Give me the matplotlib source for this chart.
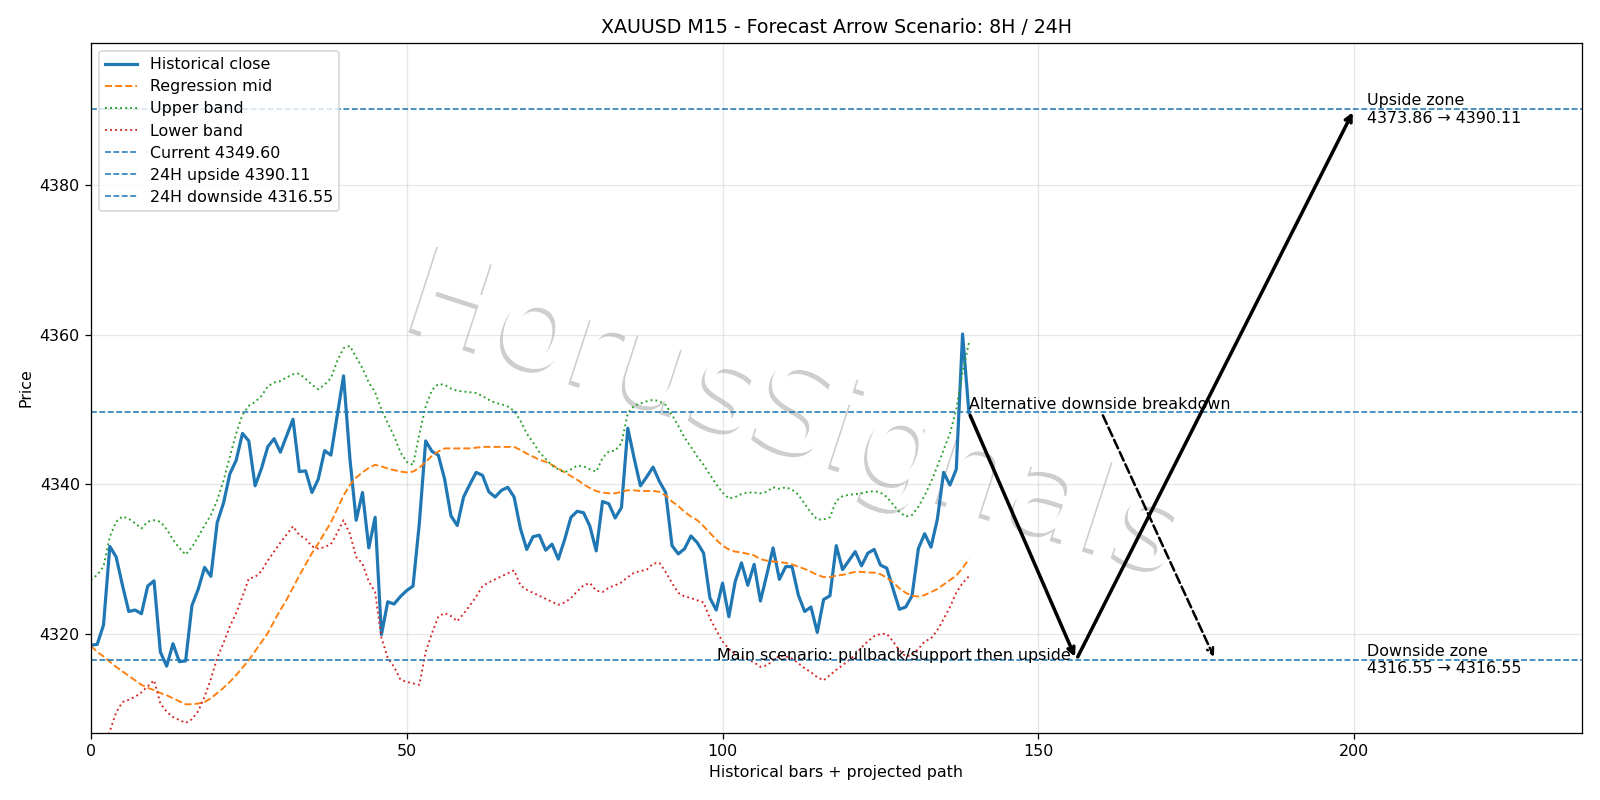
import matplotlib
matplotlib.use("Agg")
import matplotlib.pyplot as plt
import matplotlib.patheffects as pe
import numpy as np

# ── Data ──────────────────────────────────────────────────────────────────────
close = [
    4318.5, 4318.6, 4321.2, 4331.7, 4330.3, 4326.5, 4323.0, 4323.2, 4322.7, 4326.4,
    4327.1, 4317.6, 4315.7, 4318.7, 4316.3, 4316.4, 4323.8, 4326.0, 4328.9, 4327.7,
    4334.9, 4337.5, 4341.4, 4343.2, 4346.8, 4345.8, 4339.8, 4342.1, 4345.0, 4346.1,
    4344.3, 4346.5, 4348.7, 4341.7, 4341.8, 4338.9, 4340.7, 4344.5, 4343.9, 4349.2,
    4354.5, 4343.5, 4335.2, 4338.9, 4331.5, 4335.6, 4319.9, 4324.3, 4324.0, 4325.0,
    4325.8, 4326.4, 4334.8, 4345.8, 4344.4, 4343.9, 4340.7, 4335.8, 4334.5, 4338.3,
    4340.0, 4341.6, 4341.2, 4339.0, 4338.3, 4339.2, 4339.6, 4338.3, 4334.1, 4331.3,
    4333.0, 4333.2, 4331.2, 4332.0, 4330.0, 4332.6, 4335.6, 4336.4, 4336.2, 4334.4,
    4331.1, 4337.7, 4337.4, 4335.5, 4336.9, 4347.5, 4343.5, 4339.8, 4341.0, 4342.3,
    4340.4, 4338.9, 4331.8, 4330.7, 4331.4, 4333.1, 4332.2, 4330.8, 4324.8, 4323.2,
    4326.8, 4322.3, 4327.0, 4329.5, 4326.5, 4329.3, 4324.4, 4327.9, 4331.5, 4327.3,
    4329.0, 4329.0, 4325.2, 4323.0, 4323.6, 4320.2, 4324.6, 4325.1, 4331.8, 4328.6,
    4329.8, 4331.0, 4329.1, 4330.8, 4331.3, 4329.2, 4328.8, 4326.0, 4323.3, 4323.6,
    4325.1, 4331.4, 4333.4, 4331.6, 4335.3, 4341.6, 4339.9, 4342.0, 4360.1, 4349.6,
]

mid = [
    4318.4, 4317.6, 4317.0, 4316.3, 4315.6, 4315.0, 4314.4, 4313.8, 4313.2, 4312.8,
    4312.5, 4312.1, 4311.8, 4311.4, 4311.0, 4310.6, 4310.6, 4310.7, 4310.9, 4311.4,
    4312.1, 4312.8, 4313.6, 4314.5, 4315.5, 4316.5, 4317.7, 4318.9, 4320.1, 4321.7,
    4323.2, 4324.6, 4326.2, 4327.8, 4329.3, 4330.8, 4332.1, 4333.5, 4334.9, 4336.7,
    4338.5, 4339.9, 4340.9, 4341.6, 4342.2, 4342.6, 4342.4, 4342.1, 4341.9, 4341.7,
    4341.6, 4341.7, 4342.2, 4343.0, 4343.8, 4344.4, 4344.8, 4344.8, 4344.8, 4344.8,
    4344.8, 4344.9, 4345.0, 4345.0, 4345.0, 4345.0, 4345.0, 4345.0, 4344.6, 4344.1,
    4343.7, 4343.3, 4343.0, 4342.6, 4342.1, 4341.6, 4341.1, 4340.6, 4340.0, 4339.5,
    4339.1, 4338.9, 4338.8, 4338.8, 4339.0, 4339.2, 4339.2, 4339.1, 4339.1, 4339.1,
    4339.0, 4338.5, 4337.7, 4337.1, 4336.3, 4335.7, 4335.2, 4334.4, 4333.5, 4332.6,
    4331.8, 4331.3, 4331.0, 4330.9, 4330.7, 4330.5, 4330.0, 4329.8, 4329.7, 4329.6,
    4329.5, 4329.3, 4329.0, 4328.7, 4328.3, 4327.9, 4327.6, 4327.6, 4327.8, 4327.9,
    4328.1, 4328.3, 4328.3, 4328.2, 4328.2, 4328.0, 4327.5, 4326.9, 4326.1, 4325.5,
    4325.1, 4325.0, 4325.2, 4325.6, 4326.0, 4326.6, 4327.2, 4327.8, 4328.8, 4330.0,
]

upper = [
    4327.2, 4327.9, 4329.0, 4333.0, 4335.0, 4335.7, 4335.4, 4334.8, 4334.1, 4335.0,
    4335.2, 4335.0, 4334.0, 4332.6, 4331.5, 4330.6, 4331.6, 4333.0, 4334.5, 4335.9,
    4337.9, 4340.5, 4343.7, 4346.8, 4349.3, 4350.5, 4351.0, 4351.8, 4353.1, 4353.6,
    4353.8, 4354.3, 4354.7, 4354.8, 4354.1, 4353.3, 4352.7, 4353.3, 4354.2, 4356.5,
    4358.2, 4358.5, 4357.0, 4355.5, 4353.6, 4352.3, 4350.0, 4348.2, 4346.4, 4344.3,
    4343.0, 4342.6, 4346.7, 4350.4, 4352.6, 4353.4, 4353.3, 4352.8, 4352.5, 4352.4,
    4352.3, 4352.2, 4351.8, 4351.3, 4350.9, 4350.7, 4350.4, 4349.8, 4348.5, 4346.8,
    4345.6, 4344.3, 4343.4, 4342.5, 4342.0, 4341.6, 4342.0, 4342.5, 4342.4, 4342.0,
    4341.7, 4343.5, 4344.4, 4344.5, 4345.5, 4349.5, 4350.5, 4350.8, 4351.1, 4351.3,
    4351.1, 4350.6, 4349.3, 4347.8, 4346.2, 4345.0, 4343.7, 4342.6, 4341.3, 4340.0,
    4338.9, 4338.1, 4338.3, 4338.7, 4338.9, 4338.9, 4338.8, 4339.0, 4339.6, 4339.4,
    4339.6, 4339.3, 4338.6, 4337.4, 4336.2, 4335.3, 4335.3, 4335.6, 4337.8, 4338.4,
    4338.6, 4338.7, 4338.8, 4339.0, 4339.1, 4338.9, 4338.3, 4337.3, 4336.3, 4335.7,
    4335.9, 4337.0, 4338.5, 4340.3, 4342.4, 4344.6, 4346.8, 4350.0, 4355.0, 4358.9,
]

lower = [
    4302.5, 4303.8, 4305.3, 4307.0, 4309.5, 4310.9, 4311.2, 4311.6, 4312.2, 4313.0,
    4313.8, 4310.7, 4309.6, 4308.9, 4308.5, 4308.1, 4308.6, 4309.7, 4311.6, 4314.0,
    4316.8, 4318.8, 4321.0, 4322.8, 4325.0, 4327.4, 4327.6, 4328.4, 4329.8, 4331.0,
    4332.2, 4333.3, 4334.4, 4333.2, 4332.7, 4331.7, 4331.4, 4331.6, 4332.0, 4333.5,
    4335.2, 4333.4, 4330.3, 4329.4, 4327.0, 4325.6, 4319.5, 4316.8, 4315.6, 4313.9,
    4313.6, 4313.4, 4313.2, 4317.6, 4320.1, 4322.3, 4322.8, 4322.4, 4321.7, 4322.7,
    4323.8, 4325.0, 4326.4, 4326.9, 4327.3, 4327.7, 4328.1, 4328.5, 4326.5, 4325.9,
    4325.5, 4325.1, 4324.7, 4324.3, 4323.9, 4324.2, 4324.8, 4325.7, 4326.5, 4326.8,
    4325.8, 4325.6, 4326.2, 4326.5, 4326.9, 4327.6, 4328.2, 4328.4, 4328.6, 4329.4,
    4329.5, 4328.3, 4326.8, 4325.5, 4325.0, 4324.8, 4324.5, 4324.2, 4322.1, 4320.5,
    4319.0, 4318.0, 4317.3, 4316.9, 4316.6, 4316.2, 4315.6, 4315.8, 4316.4, 4317.1,
    4317.0, 4316.7, 4316.1, 4315.4, 4314.9, 4314.2, 4313.8, 4314.5, 4315.2, 4315.8,
    4316.5, 4317.2, 4318.2, 4319.0, 4319.7, 4320.0, 4320.0, 4319.0, 4317.8, 4317.0,
    4317.2, 4318.0, 4319.0, 4319.4, 4320.5, 4322.0, 4323.6, 4325.5, 4326.8, 4327.7,
]

current = 4349.60
up_24h = 4390.11
down_24h = 4316.55
up_zone = (4373.86, 4390.11)
down_zone = (4316.55, 4316.55)

# projected path (bar index, price)
main_path_x = [139, 156, 200]
main_path_y = [current, down_24h, up_24h]
alt_path_x = [160, 178]
alt_path_y = [current, down_24h]

# ── Plot ──────────────────────────────────────────────────────────────────────
fig, ax = plt.subplots(figsize=(14, 7), dpi=1600 / 14)
fig.subplots_adjust(left=0.0568, right=0.9885, bottom=0.0841, top=0.9464)

x = np.arange(len(close))
ax.plot(x, close, color="#1f77b4", linewidth=2, label="Historical close")
ax.plot(x, mid, color="#ff7f0e", linestyle="--", linewidth=1.2, label="Regression mid")
ax.plot(x, upper, color="#2ca02c", linestyle=":", linewidth=1.2, label="Upper band")
ax.plot(x, lower, color="#d62728", linestyle=":", linewidth=1.2, label="Lower band")

ax.axhline(current, color="#1f77b4", linestyle="--", linewidth=1,
           label=f"Current {current:.2f}")
ax.axhline(up_24h, color="#1f77b4", linestyle="--", linewidth=1,
           label=f"24H upside {up_24h:.2f}")
ax.axhline(down_24h, color="#1f77b4", linestyle="--", linewidth=1,
           label=f"24H downside {down_24h:.2f}")

# main scenario arrows
for i in range(len(main_path_x) - 1):
    ax.annotate("", xy=(main_path_x[i + 1], main_path_y[i + 1]),
                xytext=(main_path_x[i], main_path_y[i]),
                arrowprops=dict(arrowstyle="->", lw=2.2, color="black"))
# alternative scenario arrow
ax.annotate("", xy=(alt_path_x[1], alt_path_y[1]),
            xytext=(alt_path_x[0], alt_path_y[0]),
            arrowprops=dict(arrowstyle="->", lw=1.6, color="black",
                            linestyle="--"))

ax.text(main_path_x[1] - 0.8, down_24h, "Main scenario: pullback/support then upside",
        ha="right", va="baseline", fontsize=10)
ax.text(main_path_x[0], current, "Alternative downside breakdown",
        ha="left", va="bottom", fontsize=10)
ax.text(202, up_24h, f"Upside zone\n{up_zone[0]:.2f} \u2192 {up_zone[1]:.2f}",
        ha="left", va="center", fontsize=10)
ax.text(202, down_24h, f"Downside zone\n{down_zone[0]:.2f} \u2192 {down_zone[1]:.2f}",
        ha="left", va="center", fontsize=10)

# watermark
ax.text(0.472, 0.458, "HorusSignals", transform=ax.transAxes,
        ha="center", va="center", rotation=-18, fontsize=78,
        color="white", zorder=0.5,
        path_effects=[pe.withSimplePatchShadow(offset=(-2, -2.5),
                                               shadow_rgbFace="0.45", alpha=0.35),
                      pe.Normal()])

ax.set_xlim(0, 236)
ax.set_ylim(4306.8, 4399.0)
ax.set_title("XAUUSD M15 - Forecast Arrow Scenario: 8H / 24H")
ax.set_xlabel("Historical bars + projected path")
ax.set_ylabel("Price")
ax.grid(True, alpha=0.3)
ax.legend(loc="upper left", labelspacing=0.45)

fig.savefig("out.png")
